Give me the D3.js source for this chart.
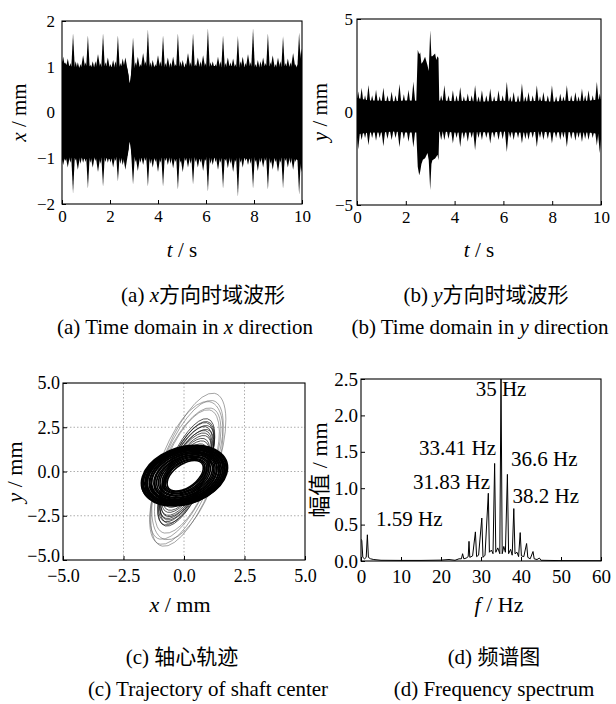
<!DOCTYPE html>
<html lang="zh">
<head>
<meta charset="UTF-8">
<title>Shaft vibration</title>
<script src="https://d3js.org/d3.v7.min.js"></script>
<style>
    body { margin: 0; background: #fff; }
    text { font-family: "Liberation Serif", "DejaVu Serif", serif; fill: #000; }
    .cjk { font-family: "Noto Sans CJK SC", sans-serif; }
</style>
</head>
<body>
<svg id="fig" width="616" height="704"></svg>
<script>
// ---------- (a) x time waveform: envelope ----------
var aBaseT  = [0,0.25,0.5,0.75,1,1.25,1.5,1.75,2,2.25,2.5,2.72,2.82,2.92,3.25,3.5,3.75,4,4.25,4.5,4.75,5,5.25,5.5,5.75,6,6.25,6.5,6.75,7,7.25,7.5,7.75,8,8.25,8.5,8.75,9,9.25,9.5,9.75,10];
var aBaseUp = [1.12,1.02,1.0,0.98,1.03,1.0,0.97,1.02,1.0,0.98,1.02,0.96,0.64,0.96,1.0,1.02,0.98,1.03,1.0,0.97,1.02,1.0,0.98,1.02,1.0,0.97,1.03,1.0,0.98,1.02,1.0,0.97,1.02,1.0,0.98,1.03,1.0,0.97,1.02,1.0,0.98,1.2];
var aBaseLo = [-1.0,-0.97,-1.0,-0.98,-1.02,-0.97,-1.0,-0.98,-1.02,-0.97,-1.0,-0.95,-0.64,-0.95,-1.0,-0.98,-1.02,-0.97,-1.0,-0.98,-1.02,-0.97,-1.0,-0.98,-1.02,-0.97,-1.0,-0.98,-1.02,-0.97,-1.0,-0.98,-1.02,-0.97,-1.0,-0.98,-1.02,-0.97,-1.0,-0.98,-1.02,-1.1];
var aSpikeT  = [0.46,1.08,1.71,2.33,2.96,3.58,4.21,4.83,5.46,6.08,6.71,7.33,7.96,8.58,9.21,9.88];
var aSpikeUp = [1.73,1.69,1.73,1.69,1.64,1.82,1.69,1.73,1.73,1.84,1.69,1.67,1.84,1.73,1.67,1.75];
var aSpikeLo = [-1.77,-1.66,-1.62,-1.51,-1.58,-1.62,-1.62,-1.69,-1.58,-1.73,-1.66,-1.84,-1.66,-1.69,-1.66,-1.8];
var aToothT  = [0.05,0.24,0.66,0.88,1.28,1.5,1.91,2.13,2.53,2.64,3.16,3.38,3.78,4.0,4.41,4.63,5.03,5.25,5.66,5.88,6.28,6.5,6.91,7.13,7.53,7.75,8.16,8.38,8.78,9.0,9.41,9.63,9.97];
var aToothUp = [1.22,1.18,1.1,1.25,1.12,1.28,1.2,1.15,1.18,1.2,1.22,1.3,1.15,1.25,1.2,1.22,1.15,1.3,1.2,1.25,1.12,1.22,1.2,1.18,1.22,1.28,1.15,1.2,1.25,1.2,1.18,1.3,1.4];
var aToothLo = [-1.15,-1.2,-1.25,-1.1,-1.2,-1.3,-1.1,-1.2,-1.15,-1.25,-1.28,-1.15,-1.2,-1.3,-1.15,-1.22,-1.3,-1.2,-1.2,-1.28,-1.15,-1.25,-1.22,-1.3,-1.2,-1.15,-1.28,-1.2,-1.25,-1.3,-1.2,-1.25,-1.3];
// small ripples on the band edge
var aRippleT  = [0.15,0.35,0.57,0.77,0.98,1.18,1.39,1.6,1.81,2.02,2.23,2.43,3.07,3.27,3.48,3.68,3.89,4.1,4.31,4.52,4.73,4.94,5.15,5.36,5.57,5.77,5.98,6.19,6.4,6.6,6.81,7.02,7.23,7.44,7.65,7.86,8.06,8.27,8.48,8.69,8.9,9.1,9.31,9.52,9.73];
var aRippleUp = [1.1,1.08,1.12,1.06,1.1,1.05,1.12,1.08,1.1,1.06,1.12,1.08,1.1,1.06,1.12,1.1,1.06,1.12,1.08,1.1,1.06,1.12,1.08,1.1,1.06,1.12,1.08,1.1,1.06,1.12,1.08,1.1,1.06,1.12,1.08,1.1,1.06,1.12,1.08,1.1,1.06,1.12,1.08,1.1,1.06];
var aRippleLo = [-1.06,-1.1,-1.05,-1.12,-1.08,-1.1,-1.06,-1.12,-1.08,-1.1,-1.06,-1.12,-1.08,-1.1,-1.06,-1.12,-1.08,-1.1,-1.06,-1.12,-1.08,-1.1,-1.06,-1.12,-1.08,-1.1,-1.06,-1.12,-1.08,-1.1,-1.06,-1.12,-1.08,-1.1,-1.06,-1.12,-1.08,-1.1,-1.06,-1.12,-1.08,-1.1,-1.06,-1.12,-1.08];

// ---------- (b) y time waveform ----------
var bBaseT  = [0,0.5,1,1.5,2,2.5,3,3.5,4,4.5,5,5.5,6,6.5,7,7.5,8,8.5,9,9.5,10];
var bBaseUp = [0.75,0.62,0.6,0.58,0.62,0.6,0.6,0.62,0.58,0.6,0.55,0.58,0.6,0.55,0.58,0.6,0.55,0.6,0.58,0.6,0.7];
var bBaseLo = [-1.2,-1.1,-1.1,-1.05,-1.1,-1.1,-1.1,-1.05,-1.1,-1.1,-1.08,-1.1,-1.05,-1.1,-1.1,-1.05,-1.1,-1.08,-1.1,-1.1,-1.2];
var bToothT  = [0.05,0.19,0.33,0.47,0.62,0.78,0.93,1.08,1.25,1.42,1.58,1.74,1.92,2.11,2.31,3.45,3.58,3.75,3.93,4.08,4.23,4.38,4.54,4.7,4.84,4.98,5.12,5.3,5.46,5.62,5.8,5.97,6.14,6.28,6.42,6.6,6.76,6.9,7.03,7.2,7.37,7.5,7.64,7.82,7.99,8.16,8.33,8.46,8.6,8.78,8.95,9.08,9.22,9.35,9.49,9.66,9.83,9.95];
var bToothUp = [1.1,1.3,0.9,1.45,0.9,1.2,0.85,1.3,0.9,1.1,0.9,1.5,0.95,1.2,1.62,0.9,1.44,0.9,1.17,0.9,1.35,0.85,1.0,0.9,1.44,0.85,1.17,0.9,1.26,0.85,1.17,0.9,1.62,0.85,1.08,0.9,1.53,0.85,1.08,0.9,1.44,0.85,1.08,0.9,1.44,0.85,0.99,0.85,1.44,0.9,1.08,0.85,1.26,0.9,1.17,0.9,1.62,1.0];
var bToothLo = [-2.0,-1.5,-1.4,-1.79,-1.4,-1.55,-1.4,-1.84,-1.45,-1.5,-1.4,-1.9,-1.45,-1.6,-1.9,-1.5,-1.52,-1.45,-1.7,-1.4,-1.88,-1.45,-1.6,-1.4,-2.06,-1.4,-1.5,-1.4,-1.7,-1.4,-1.5,-1.45,-2.15,-1.4,-1.5,-1.4,-1.7,-1.45,-1.5,-1.4,-1.88,-1.4,-1.5,-1.45,-1.7,-1.4,-1.5,-1.4,-1.88,-1.45,-1.55,-1.4,-1.61,-1.45,-1.5,-1.4,-1.8,-2.2];
var bBurstT  = [2.43,2.49,2.55,2.59,2.64,2.7,2.79,2.89,2.94,3.0,3.05,3.09,3.2,3.25,3.3,3.34,3.37];
var bBurstUp = [0.6,3.33,3.1,3.2,2.6,2.7,2.97,2.5,2.2,4.4,3.0,3.0,3.15,2.8,3.0,2.9,0.7];
var bBurstLo = [-1.1,-2.95,-3.4,-3.2,-2.8,-2.57,-2.48,-2.2,-2.6,-4.2,-2.8,-2.6,-2.5,-2.4,-2.3,-2.6,-1.1];

// ---------- (c) shaft orbit: loops as ellipses (centre, semi-axes, tilt in degrees) ----------
var ringCx = [0.02,0.0,0.04,-0.01,0.03,0.05,0.02,0.04,0.01,0.05,0.03,0.04,0.02,0.05,0.04,0.05,0.06,0.05,0.06,0.05,0.04,0.05];
var ringCy = [-0.22,-0.27,-0.2,-0.28,-0.24,-0.26,-0.22,-0.27,-0.24,-0.25,-0.23,-0.26,-0.24,-0.25,-0.24,-0.25,-0.23,-0.24,-0.23,-0.24,-0.23,-0.24];
var ringA  = [1.95,1.92,1.89,1.86,1.83,1.8,1.77,1.74,1.7,1.66,1.62,1.58,1.54,1.49,1.44,1.38,1.32,1.25,1.18,1.12,1.06,1.0];
var ringB  = [1.5,1.47,1.45,1.42,1.4,1.37,1.35,1.32,1.29,1.26,1.22,1.18,1.14,1.09,1.04,0.98,0.92,0.85,0.78,0.7,0.63,0.56];
var ringTilt = [40,41,40,41,42,41,42,42,43,43,44,44,45,46,46,47,48,49,50,51,52,53];
var coilCx = [0.1,0.08,0.12,0.1,0.09,0.11,0.1,0.08,0.1,0.09,0.1,0.08];
var coilCy = [-0.05,-0.1,-0.08,-0.12,-0.1,-0.14,-0.12,-0.15,-0.14,-0.16,-0.15,-0.17];
var coilA  = [3.15,3.05,2.95,2.85,2.75,2.65,2.55,2.45,2.3,2.15,2.0,1.85];
var coilB  = [0.82,0.8,0.8,0.78,0.77,0.76,0.74,0.72,0.7,0.68,0.66,0.64];
var coilTilt = [74,73,74,72,73,71,72,71,70,70,69,68];
var loopCx = [0.18,0.1,0.14,0.06,0.12];
var loopCy = [0.1,-0.05,0.05,-0.12,0.0];
var loopA  = [4.45,4.2,4.0,3.85,3.6];
var loopB  = [1.15,1.1,1.2,1.05,1.0];
var loopTilt = [76,75,77,74,75];

// ---------- (d) spectrum ----------
var specF = [0,0.2,0.45,0.9,1.3,1.59,1.85,2.4,3.2,5,10,15,20,22,23.5,24.5,25.1,25.4,25.7,26.3,26.8,27.0,27.2,27.9,28.6,28.9,29.4,30.2,30.5,31.0,31.83,32.1,32.6,33.0,33.41,33.7,34.2,34.7,35.0,35.3,35.7,36.1,36.6,36.9,37.4,37.8,38.2,38.5,39.0,39.4,39.8,40.1,40.7,41.4,41.7,42.3,43.0,43.3,44.0,44.6,45,50,60];
var specA = [0.3,0.28,0.05,0.03,0.05,0.36,0.05,0.03,0.02,0.01,0.008,0.008,0.012,0.02,0.01,0.03,0.03,0.1,0.03,0.04,0.06,0.27,0.05,0.07,0.4,0.06,0.08,0.59,0.05,0.08,0.93,0.12,0.15,0.1,1.34,0.12,0.18,0.1,2.5,0.1,0.2,0.12,1.19,0.1,0.16,0.08,0.72,0.1,0.12,0.06,0.39,0.07,0.06,0.24,0.05,0.03,0.13,0.03,0.02,0.04,0.01,0.005,0.004];
var peakLabels = ["1.59 Hz","31.83 Hz","33.41 Hz","35 Hz","36.6 Hz","38.2 Hz"];
var peakLabelF = [3.75,32.25,33.75,35,37.5,37.9];
var peakLabelA = [0.485,0.985,1.45,2.26,1.305,0.79];
var peakLabelAnchor = ["start","end","end","middle","start","start"];

var svg = d3.select("#fig");

function panel(box, xDom, yDom) {
    var x = d3.scaleLinear().domain(xDom).range([box.l, box.r]);
    var y = d3.scaleLinear().domain(yDom).range([box.b, box.t]);
    var id = "clip" + Math.round(box.l) + "_" + Math.round(box.t);
    svg.append("clipPath").attr("id", id).append("rect")
        .attr("x", box.l).attr("y", box.t).attr("width", box.r - box.l).attr("height", box.b - box.t);
    var plot = svg.append("g").attr("clip-path", "url(#" + id + ")");
    return { x: x, y: y, box: box, plot: plot };
}

function axes(p, xTicks, yTicks, fmtX, fmtY, fs, xPad, yPad) {
    var b = p.box;
    var gx = svg.append("g").attr("transform", "translate(0," + b.b + ")")
        .call(d3.axisBottom(p.x).tickValues(xTicks).tickFormat(fmtX).tickSizeInner(-4).tickSizeOuter(0).tickPadding(xPad));
    var gy = svg.append("g").attr("transform", "translate(" + b.l + ",0)")
        .call(d3.axisLeft(p.y).tickValues(yTicks).tickFormat(fmtY).tickSizeInner(-4).tickSizeOuter(0).tickPadding(yPad));
    [gx, gy].forEach(function(g) {
        g.select(".domain").remove();
        g.attr("font-size", fs);
        g.selectAll("line").attr("stroke", "#000");
    });
    svg.append("rect").attr("x", b.l).attr("y", b.t)
        .attr("width", b.r - b.l).attr("height", b.b - b.t)
        .attr("fill", "none").attr("stroke", "#000").attr("stroke-width", 1.1);
    return { gx: gx, gy: gy };
}

function label(x, y, parts, fs, rotate, anchor) {
    var t = svg.append("text").attr("font-size", fs)
        .attr("text-anchor", anchor || "middle")
        .attr("transform", "translate(" + x + "," + y + ")" + (rotate ? " rotate(-90)" : ""));
    parts.forEach(function(s) {
        var ts = t.append("tspan").text(s[0]);
        if (s[1] === "i") ts.attr("font-style", "italic");
        if (s[1] === "c") ts.attr("class", "cjk");
    });
    return t;
}

// band = base envelope + triangular peaks anchored inside the solid band
function band(p, baseT, baseUp, baseLo, peaks, w, anchorUp, anchorLo) {
    var area = d3.area()
        .x(function(d) { return p.x(d[0]); })
        .y0(function(d) { return p.y(d[2]); })
        .y1(function(d) { return p.y(d[1]); });
    if (baseT) p.plot.append("path").datum(d3.zip(baseT, baseUp, baseLo)).attr("d", area).attr("fill", "#000");
    p.plot.selectAll(null).data(peaks).enter().append("path")
        .attr("fill", "#000")
        .attr("d", function(d) {
            var t = d[0];
            return "M" + p.x(t - w) + "," + p.y(anchorUp) + "L" + p.x(t) + "," + p.y(d[1]) +
                   "L" + p.x(t + w) + "," + p.y(anchorUp) + "L" + p.x(t + w) + "," + p.y(anchorLo) +
                   "L" + p.x(t) + "," + p.y(d[2]) + "L" + p.x(t - w) + "," + p.y(anchorLo) + "Z";
        });
}

// ---------- panel (a) ----------
var pa = panel({ l: 62, r: 302, t: 21, b: 204 }, [0, 10], [-2, 2]);
band(pa, aBaseT, aBaseUp, aBaseLo, d3.zip(aSpikeT, aSpikeUp, aSpikeLo), 0.09, 0.8, -0.8);
band(pa, null, null, null, d3.zip(aToothT, aToothUp, aToothLo), 0.14, 0.8, -0.8);
band(pa, null, null, null, d3.zip(aRippleT, aRippleUp, aRippleLo), 0.08, 0.92, -0.92);
axes(pa, d3.range(0, 11, 2), [-2, -1, 0, 1, 2], d3.format("d"), d3.format("d"), 17, 6, 7);
label(182, 257, [["t", "i"], [" / s"]], 21);
label(26, 112.5, [["x", "i"], [" / mm"]], 21, true);

// ---------- panel (b) ----------
var pb = panel({ l: 357, r: 601, t: 19, b: 205 }, [0, 10], [-5, 5]);
band(pb, bBaseT, bBaseUp, bBaseLo, d3.zip(bToothT, bToothUp, bToothLo), 0.09, 0.3, -0.85);
pb.plot.append("path").datum(d3.zip(bBurstT, bBurstUp, bBurstLo))
    .attr("fill", "#000")
    .attr("d", d3.area().x(function(d) { return pb.x(d[0]); })
        .y0(function(d) { return pb.y(d[2]); }).y1(function(d) { return pb.y(d[1]); }));
axes(pb, d3.range(0, 11, 2), [-5, 0, 5], d3.format("d"), d3.format("d"), 17, 6, 4);
label(479, 257, [["t", "i"], [" / s"]], 21);
label(327, 112, [["y", "i"], [" / mm"]], 21, true);

// ---------- panel (c) ----------
var pc = panel({ l: 63, r: 305, t: 383, b: 560 }, [-5, 5], [-5, 5]);
var gridV = [-2.5, 0, 2.5];
pc.plot.selectAll(null).data(gridV).enter().append("line")
    .attr("x1", function(d) { return pc.x(d); }).attr("x2", function(d) { return pc.x(d); })
    .attr("y1", pc.box.t).attr("y2", pc.box.b)
    .attr("stroke", "#999").attr("stroke-width", 0.8).attr("stroke-dasharray", "1.5,2");
pc.plot.selectAll(null).data(gridV).enter().append("line")
    .attr("y1", function(d) { return pc.y(d); }).attr("y2", function(d) { return pc.y(d); })
    .attr("x1", pc.box.l).attr("x2", pc.box.r)
    .attr("stroke", "#999").attr("stroke-width", 0.8).attr("stroke-dasharray", "1.5,2");
var kx = pc.x(1) - pc.x(0), ky = pc.y(0) - pc.y(1);
function orbit(cx, cy, a, b, tilt, color, width) {
    pc.plot.selectAll(null).data(d3.zip(cx, cy, a, b, tilt)).enter().append("ellipse")
        .attr("cx", 0).attr("cy", 0)
        .attr("rx", function(d) { return d[2]; }).attr("ry", function(d) { return d[3]; })
        .attr("transform", function(d) {
            return "translate(" + pc.x(d[0]) + "," + pc.y(d[1]) + ") scale(" + kx + "," + (-ky) + ") rotate(" + d[4] + ")";
        })
        .attr("fill", "none").attr("stroke", color).attr("stroke-width", width)
        .attr("vector-effect", "non-scaling-stroke");
}
orbit(loopCx, loopCy, loopA, loopB, loopTilt, "#666", 0.6);
orbit(coilCx, coilCy, coilA, coilB, coilTilt, "#111", 0.7);
orbit(ringCx, ringCy, ringA, ringB, ringTilt, "#000", 1.6);
var axc = axes(pc, [-5, -2.5, 0, 2.5, 5], [-5, -2.5, 0, 2.5, 5], d3.format(".1f"), d3.format(".1f"), 18, 9.5, 3);
axc.gy.selectAll(".tick text").filter(function(d) { return d === -5; }).attr("dy", "0.1em");
label(180, 612, [["x", "i"], [" / mm"]], 22);
label(22, 472, [["y", "i"], [" / mm"]], 22, true);

// ---------- panel (d) ----------
var pd = panel({ l: 361, r: 601, t: 379, b: 561 }, [0, 60], [0, 2.5]);
pd.plot.append("path").datum(d3.zip(specF, specA))
    .attr("fill", "none").attr("stroke", "#000").attr("stroke-width", 1)
    .attr("d", d3.line().x(function(d) { return pd.x(d[0]); }).y(function(d) { return pd.y(d[1]); }));
axes(pd, d3.range(0, 61, 10), [0, 0.5, 1, 1.5, 2, 2.5], d3.format("d"), d3.format(".1f"), 19, 8.5, 3);
svg.selectAll(".peak").data(d3.range(peakLabels.length)).enter().append("text")
    .attr("class", "peak").attr("font-size", 21)
    .attr("x", function(i) { return pd.x(peakLabelF[i]); })
    .attr("y", function(i) { return pd.y(peakLabelA[i]); })
    .attr("text-anchor", function(i) { return peakLabelAnchor[i]; })
    .text(function(i) { return peakLabels[i]; });
label(499, 612, [["f", "i"], [" / Hz"]], 22);
label(327, 470, [["幅值", "c"], [" / mm"]], 22, true);

// ---------- captions ----------
label(203, 302, [["(a)  "], ["x", "i"], ["方向时域波形", "c"]], 21);
label(185, 334, [["(a)  Time domain in "], ["x", "i"], [" direction"]], 21);
label(486, 302, [["(b)  "], ["y", "i"], ["方向时域波形", "c"]], 21);
label(480, 334, [["(b)  Time domain in "], ["y", "i"], [" direction"]], 21);
label(182, 664, [["(c)  "], ["轴心轨迹", "c"]], 21);
label(208, 696, [["(c)  Trajectory of shaft center"]], 21);
label(494, 664, [["(d)  "], ["频谱图", "c"]], 21);
label(494, 696, [["(d) Frequency spectrum"]], 21);
</script>
</body>
</html>
